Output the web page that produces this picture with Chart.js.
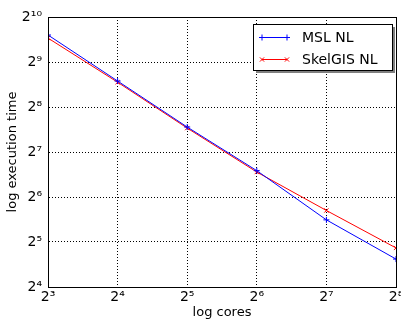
<!DOCTYPE html>
<html>
<head>
<meta charset="utf-8">
<script src="https://cdn.jsdelivr.net/npm/chart.js@4/dist/chart.umd.min.js"></script>
<style>
  html, body { margin: 0; padding: 0; background: #fff; }
</style>
</head>
<body>
<canvas id="myChart" width="401" height="320"></canvas>
<script>
// values (log2 axes)
const cores = [8, 16, 32, 64, 128, 256];
const mslNL = [776, 382, 188, 96, 45, 24.6];
const skelgisNL = [740, 375, 185, 94, 52, 29.2];
const xTicks = [8, 16, 32, 64, 128, 256];
const yTicks = [16, 32, 64, 128, 256, 512, 1024];

const sup = '⁰¹²³⁴⁵⁶⁷⁸⁹';
function pow2Label(v) {
  const e = String(Math.round(Math.log2(v)));
  return '2' + e.split('').map(d => sup[+d]).join('');
}

const FONT = "'DejaVu Sans', sans-serif";

// box round the axes + legend with shadow, matplotlib style
const framePlugin = {
  id: 'frame',
  afterDraw(chart) {
    const ctx = chart.ctx;
    const a = chart.chartArea;
    ctx.save();
    ctx.strokeStyle = '#000';
    ctx.lineWidth = 1;
    ctx.strokeRect(Math.round(a.left) + 0.5, Math.round(a.top) + 0.5,
                   Math.round(a.right - a.left), Math.round(a.bottom - a.top));

    // legend
    const w = 139, h = 46;
    const x0 = Math.round(a.right) - w - 4, y0 = Math.round(a.top) + 7;
    ctx.fillStyle = '#808080';
    ctx.fillRect(x0 + 3, y0 + 3, w, h);
    ctx.fillStyle = '#fff';
    ctx.fillRect(x0, y0, w, h);
    ctx.strokeRect(x0 + 0.5, y0 + 0.5, w, h);

    ctx.font = '14px ' + FONT;
    ctx.textBaseline = 'middle';
    chart.data.datasets.forEach((ds, i) => {
      const yy = y0 + 13 + i * 22;
      ctx.strokeStyle = ds.borderColor;
      ctx.beginPath();
      ctx.moveTo(x0 + 9, yy + 0.5);
      ctx.lineTo(x0 + 34, yy + 0.5);
      ctx.stroke();
      [x0 + 9, x0 + 34].forEach(px => {
        Chart.helpers.drawPoint(ctx, {pointStyle: ds.pointStyle, radius: 3, borderWidth: 1}, px, yy + 0.5);
      });
      ctx.fillStyle = '#000';
      ctx.fillText(ds.label, x0 + 49, yy + 1);
    });
    ctx.restore();
  }
};

const ctx = document.getElementById('myChart').getContext('2d');
const myChart = new Chart(ctx, {
  type: 'line',
  data: {
    datasets: [{
      label: 'MSL NL',
      data: cores.map((c, i) => ({x: c, y: mslNL[i]})),
      borderColor: '#0000ff',
      backgroundColor: '#0000ff',
      borderWidth: 1,
      pointStyle: 'cross',
      pointRadius: 3,
      pointBorderWidth: 1,
      tension: 0
    }, {
      label: 'SkelGIS NL',
      data: cores.map((c, i) => ({x: c, y: skelgisNL[i]})),
      borderColor: '#ff0000',
      backgroundColor: '#ff0000',
      borderWidth: 1,
      pointStyle: 'crossRot',
      pointRadius: 3,
      pointBorderWidth: 1,
      tension: 0
    }]
  },
  options: {
    responsive: false,
    animation: false,
    layout: { padding: { top: 17, right: 4, left: 0, bottom: 0 } },
    plugins: { legend: { display: false }, tooltip: { enabled: false } },
    scales: {
      x: {
        type: 'logarithmic',
        min: 8,
        max: 256,
        afterBuildTicks: s => { s.ticks = xTicks.map(v => ({value: v})); },
        afterFit: s => { s.height = 33; s.paddingLeft = 0; s.paddingRight = 0; },
        ticks: {
          color: '#000',
          font: { family: FONT, size: 14 },
          padding: 2,
          maxRotation: 0,
          autoSkip: false,
          callback: v => pow2Label(v)
        },
        grid: { color: '#000', drawTicks: false, tickBorderDash: [1, 2] },
        border: { color: '#000', dash: [1, 2] },
        title: { display: true, text: 'log cores', color: '#000', font: { family: FONT, size: 13 }, padding: 0 }
      },
      y: {
        type: 'logarithmic',
        min: 16,
        max: 1024,
        afterBuildTicks: s => { s.ticks = yTicks.map(v => ({value: v})); },
        afterFit: s => { s.width = 48; s.paddingTop = 0; s.paddingBottom = 0; },
        ticks: {
          color: '#000',
          font: { family: FONT, size: 14 },
          padding: 6,
          autoSkip: false,
          callback: v => pow2Label(v)
        },
        grid: { color: '#000', drawTicks: false },
        border: { color: '#000', dash: [1, 2] },
        title: { display: true, text: 'log execution time', color: '#000', font: { family: FONT, size: 13 }, padding: { top: 5, bottom: 0 } }
      }
    }
  },
  plugins: [framePlugin]
});
</script>
</body>
</html>
